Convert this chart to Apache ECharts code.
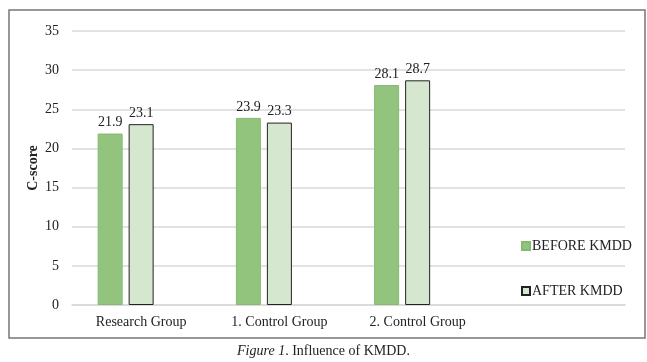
<!DOCTYPE html>
<html><head><meta charset="utf-8">
<script src="https://cdn.jsdelivr.net/npm/echarts@6/dist/echarts.min.js"></script>
<style>html,body{margin:0;padding:0;background:#fff}#c{width:647px;height:362px}</style>
</head><body><div id="c"></div>
<script>
const categories = ['Research Group', '1. Control Group', '2. Control Group', ''];
const beforeValues = [21.9, 23.9, 28.1, null];
const afterValues = [23.1, 23.3, 28.7, null];
const spacerValues = [null, null, null, null];
const yTicks = [0, 5, 10, 15, 20, 25, 30, 35];
const yAxisTitle = 'C-score';

const font = 'Liberation Serif';
const chart = echarts.init(document.getElementById('c'));
const labelCfg = { show: true, position: 'top', distance: 4, fontFamily: font, fontSize: 14, color: '#222' };
chart.setOption({
  animation: false,
  grid: { left: 72, right: 22, top: 31, bottom: 57 },
  legend: {
    orient: 'vertical', left: 516, top: 234, itemGap: 31,
    itemWidth: 8, itemHeight: 8, icon: 'rect',
    textStyle: { fontFamily: font, fontSize: 14, color: '#222', padding: [0, 0, 0, -3] },
    data: ['BEFORE KMDD', 'AFTER KMDD']
  },
  xAxis: {
    type: 'category', data: categories,
    axisTick: { show: false },
    axisLine: { lineStyle: { color: '#d9d9d9', width: 1.5 } },
    axisLabel: { fontFamily: font, fontSize: 14, color: '#222', margin: 10 }
  },
  yAxis: {
    type: 'value', min: yTicks[0], max: yTicks[yTicks.length - 1], interval: 5,
    axisLabel: { fontFamily: font, fontSize: 14, color: '#222', margin: 13 },
    splitLine: { lineStyle: { color: '#d9d9d9', width: 1.5 } },
    axisLine: { show: false }, axisTick: { show: false }
  },
  graphic: [
    { type: 'rect', shape: { x: 9, y: 10, width: 636, height: 328 },
      style: { fill: 'none', stroke: '#777', lineWidth: 1.5 }, z: 100 },
    { type: 'text', x: 33, y: 168, rotation: Math.PI / 2,
      style: { text: yAxisTitle, fontFamily: font, fontSize: 14, fontWeight: 'bold', fill: '#222',
        align: 'center', verticalAlign: 'middle' } },
    { type: 'text', left: 'center', top: 344,
      style: { text: '{i|Figure 1}. Influence of KMDD.', fontFamily: font, fontSize: 14, fill: '#222',
        rich: { i: { fontStyle: 'italic', fontFamily: font, fontSize: 14, fill: '#222' } } } }
  ],
  series: [
    { name: 'BEFORE KMDD', type: 'bar', data: beforeValues, barWidth: 25, barGap: '24%',
      itemStyle: { color: '#92c47e', borderColor: '#86b972', borderWidth: 1 }, label: labelCfg },
    { name: 'AFTER KMDD', type: 'bar', data: afterValues, barWidth: 25,
      itemStyle: { color: '#d5e7cf', borderColor: '#222', borderWidth: 1 }, label: labelCfg },
    { name: 'spacer', type: 'bar', data: spacerValues, barWidth: 25 }
  ]
});
</script></body></html>
